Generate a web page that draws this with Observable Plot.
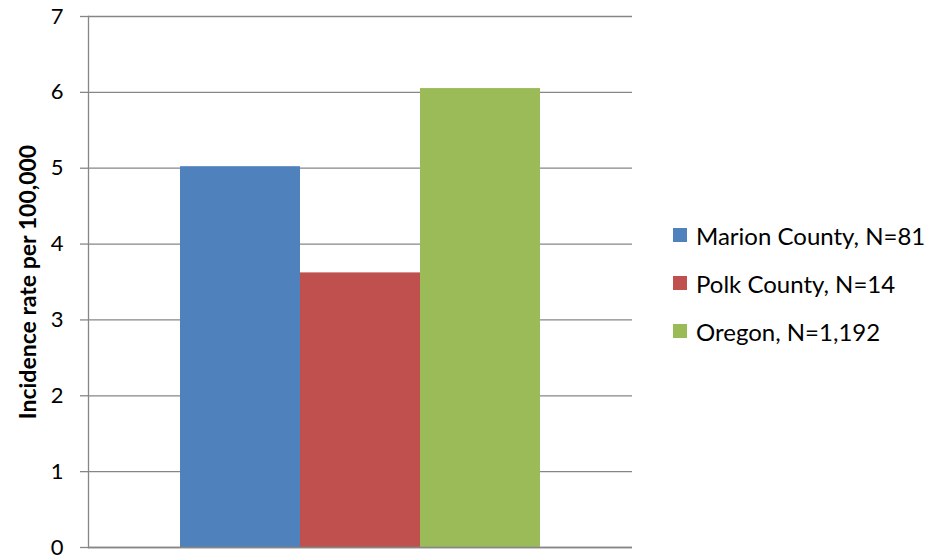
<!DOCTYPE html>
<html>
<head>
<meta charset="utf-8">
<script src="https://cdn.jsdelivr.net/npm/d3@7"></script>
<script src="https://cdn.jsdelivr.net/npm/@observablehq/plot@0.6"></script>
<style>
  html, body { margin: 0; padding: 0; background: #fff; }
  #wrap { position: relative; width: 947px; height: 558px; font-family: Lato, "Open Sans", sans-serif; }
  #legend { position: absolute; left: 673px; top: 211px; }
  .item { display: flex; align-items: center; height: 48px; font-size: 24px; color: #000; }
  .sw { width: 14px; height: 14px; margin-right: 9px; }
</style>
</head>
<body>
<div id="wrap"></div>
<script>
const series = ["Marion County, N=81", "Polk County, N=14", "Oregon, N=1,192"];
const rates = [5.02, 3.62, 6.05];
const colors = ["#4F81BD", "#C0504D", "#9BBB59"];
const yTicks = [0, 1, 2, 3, 4, 5, 6, 7];
const yLabel = "Incidence rate per 100,000";

const data = series.map((s, i) => ({ series: s, rate: rates[i] }));

const chart = Plot.plot({
  width: 947,
  height: 558,
  marginLeft: 88,
  marginRight: 315,
  marginTop: 16,
  marginBottom: 11,
  style: { fontFamily: "Lato, 'Open Sans', sans-serif", fontSize: "22px", color: "#000", background: "#fff", overflow: "visible" },
  x: { domain: series, paddingInner: 0, paddingOuter: 0.75, axis: null },
  y: { domain: [0, 7], ticks: yTicks },
  color: { domain: series, range: colors },
  marks: [
    Plot.ruleY(yTicks, { stroke: "#868686", strokeWidth: 1.3 }),
    Plot.barY(data, { x: "series", y: "rate", fill: "series" }),
    Plot.ruleY([0], { stroke: "#868686", strokeWidth: 1.3 }),
    Plot.frame({ anchor: "left", stroke: "#868686", strokeWidth: 1.3 }),
    Plot.axisY({ ticks: yTicks, tickFormat: d3.format("d"), tickSize: 8, tickPadding: 17, stroke: "#868686", strokeWidth: 1.3, label: null, fontSize: 22, fill: "#000" }),
    Plot.text([yLabel], { frameAnchor: "left", textAnchor: "middle", rotate: -90, dx: -60, fontWeight: "bold", fontSize: 23, fill: "#000" })
  ]
});

const wrap = document.getElementById("wrap");
wrap.appendChild(chart);

const legend = document.createElement("div");
legend.id = "legend";
series.forEach((s, i) => {
  const it = document.createElement("div");
  it.className = "item";
  const sw = document.createElement("div");
  sw.className = "sw";
  sw.style.background = colors[i];
  const tx = document.createElement("span");
  tx.textContent = s;
  it.appendChild(sw);
  it.appendChild(tx);
  legend.appendChild(it);
});
wrap.appendChild(legend);
</script>
</body>
</html>
